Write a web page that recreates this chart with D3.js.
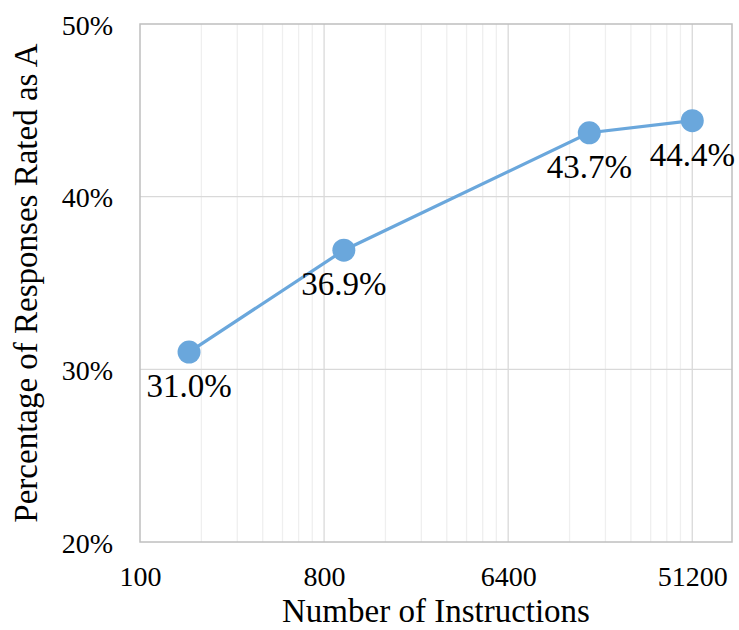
<!DOCTYPE html>
<html>
<head>
<meta charset="utf-8">
<script src="https://cdn.jsdelivr.net/npm/d3@7"></script>
<style>
  html, body { margin: 0; padding: 0; background: #fff; }
  svg { display: block; }
  svg text { font-family: 'Liberation Serif', 'Tinos', 'Times New Roman', 'Times', 'Noto Serif', 'FreeSerif', 'DejaVu Serif', 'Noto Serif CJK SC', 'Noto Serif CJK JP', serif !important; fill: #000; }
</style>
</head>
<body>
<svg id="chart" width="739" height="630"></svg>
<script>
// ---- data ----
const instructions = [174, 1000, 16000, 51200];
const percentA = [0.310, 0.369, 0.437, 0.444];
const pointLabels = ["31.0%", "36.9%", "43.7%", "44.4%"];
const xTickValues = [100, 800, 6400, 51200];
const xTickLabels = ["100", "800", "6400", "51200"];
const yTickValues = [0.2, 0.3, 0.4, 0.5];
const yTickLabels = ["20%", "30%", "40%", "50%"];
const xDomain = [100, 80200];
const yDomain = [0.2, 0.5];
const xTitle = "Number of Instructions";
const yTitle = "Percentage of Responses Rated as A";

(function () {
  // ---- layout ----
  const svg = d3.select("#chart");
  const pLeft = 140, pRight = 732, pTop = 24, pBottom = 542;
  const color = "#6aa7dc";

  const x = d3.scaleLog().base(8).domain(xDomain).range([pLeft, pRight]);
  const y = d3.scaleLinear().domain(yDomain).range([pBottom, pTop]);

  // minor vertical gridlines (k * major, k=2..7)
  const minor = [];
  xTickValues.forEach(m => { for (let k = 2; k <= 7; k++) { const v = m * k; if (v < xDomain[1]) minor.push(v); } });

  const grid = svg.append("g");
  grid.selectAll("line.minor").data(minor).join("line").attr("class", "minor")
    .attr("x1", d => x(d)).attr("x2", d => x(d))
    .attr("y1", pTop).attr("y2", pBottom)
    .attr("stroke", "#efefef").attr("stroke-width", 1.3);

  grid.selectAll("line.majx").data(xTickValues.slice(1)).join("line").attr("class", "majx")
    .attr("x1", d => x(d)).attr("x2", d => x(d))
    .attr("y1", pTop).attr("y2", pBottom)
    .attr("stroke", "#d9d9d9").attr("stroke-width", 1.3);

  grid.selectAll("line.majy").data(yTickValues.slice(1, -1)).join("line").attr("class", "majy")
    .attr("x1", pLeft).attr("x2", pRight)
    .attr("y1", d => y(d)).attr("y2", d => y(d))
    .attr("stroke", "#d9d9d9").attr("stroke-width", 1.3);

  // plot border
  svg.append("rect")
    .attr("x", pLeft).attr("y", pTop)
    .attr("width", pRight - pLeft).attr("height", pBottom - pTop)
    .attr("fill", "none").attr("stroke", "#bfbfbf").attr("stroke-width", 1.5);

  // axes (labels only)
  const xAxis = d3.axisBottom(x).tickValues(xTickValues)
    .tickFormat((d, i) => xTickLabels[i]).tickSize(0).tickPadding(0);
  const gx = svg.append("g").attr("transform", `translate(0,${pBottom})`).call(xAxis);
  gx.select(".domain").remove();
  gx.attr("font-size", 28);
  gx.selectAll("text").attr("dy", null).attr("y", 44).attr("fill", "#000");

  const yAxis = d3.axisLeft(y).tickValues(yTickValues)
    .tickFormat((d, i) => yTickLabels[i]).tickSize(0).tickPadding(0);
  const gy = svg.append("g").attr("transform", `translate(${pLeft},0)`).call(yAxis);
  gy.select(".domain").remove();
  gy.attr("font-size", 28);
  gy.selectAll("text").attr("x", -27).attr("dy", "0.36em").attr("fill", "#000");

  // titles
  svg.append("text").attr("x", (pLeft + pRight) / 2).attr("y", 622)
    .attr("text-anchor", "middle").attr("font-size", 33).text(xTitle);
  svg.append("text")
    .attr("transform", `translate(37,${(pTop + pBottom) / 2}) rotate(-90)`)
    .attr("text-anchor", "middle").attr("font-size", 33).text(yTitle);

  // series
  const pts = instructions.map((v, i) => ({ x: v, y: percentA[i], label: pointLabels[i] }));
  svg.append("path").datum(pts)
    .attr("d", d3.line().x(d => x(d.x)).y(d => y(d.y)))
    .attr("fill", "none").attr("stroke", color).attr("stroke-width", 3.2);

  svg.selectAll("circle.pt").data(pts).join("circle").attr("class", "pt")
    .attr("cx", d => x(d.x)).attr("cy", d => y(d.y)).attr("r", 11.5)
    .attr("fill", color);

  svg.selectAll("text.lbl").data(pts).join("text").attr("class", "lbl")
    .attr("x", d => x(d.x)).attr("y", d => y(d.y) + 45)
    .attr("text-anchor", "middle").attr("font-size", 33).text(d => d.label);
})();
</script>
</body>
</html>
